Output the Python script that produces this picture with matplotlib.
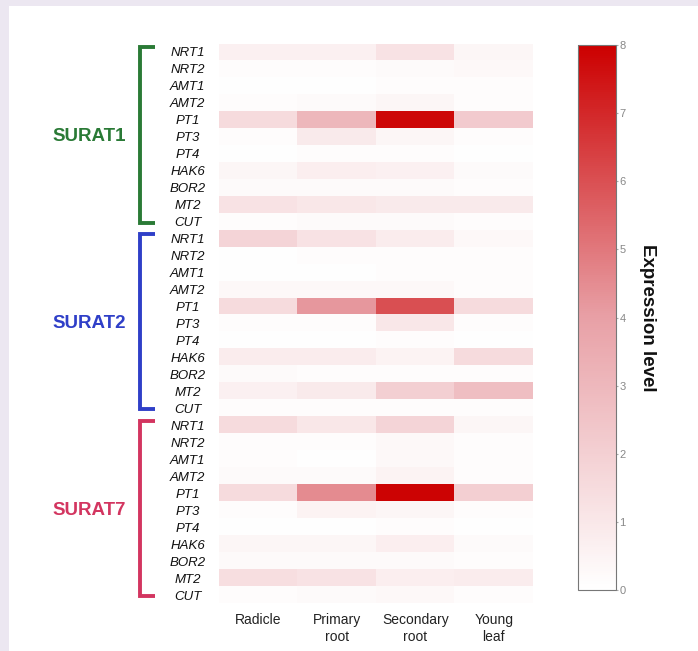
import numpy as np
import matplotlib
matplotlib.use("Agg")
from matplotlib import pyplot as plt
from matplotlib.colors import LinearSegmentedColormap
from matplotlib.patches import Rectangle
import matplotlib.transforms as mtransforms

plt.rcParams['font.family'] = ['Liberation Sans', 'DejaVu Sans']

# tissues and genes
tissues = ["Radicle", "Primary\nroot", "Secondary\nroot", "Young\nleaf"]
genes = ["NRT1", "NRT2", "AMT1", "AMT2", "PT1", "PT3", "PT4",
         "HAK6", "BOR2", "MT2", "CUT"]
strains = ["SURAT1", "SURAT2", "SURAT7"]
strain_colors = ["#2a7a36", "#2f3fc8", "#d33560"]

# expression levels (Radicle, Primary root, Secondary root, Young leaf)
surat1 = [[0.6, 0.6, 1.2, 0.4],
          [0.1, 0.1, 0.2, 0.3],
          [0.05, 0.05, 0.1, 0.1],
          [0.1, 0.2, 0.4, 0.1],
          [1.5, 3.0, 7.8, 2.2],
          [0.1, 0.9, 0.4, 0.1],
          [0.05, 0.1, 0.1, 0.05],
          [0.4, 0.7, 0.6, 0.2],
          [0.2, 0.2, 0.2, 0.1],
          [1.2, 1.0, 0.9, 0.9],
          [0.1, 0.2, 0.2, 0.1]]
surat2 = [[1.8, 1.2, 0.8, 0.3],
          [0.05, 0.1, 0.1, 0.1],
          [0.05, 0.05, 0.1, 0.1],
          [0.3, 0.3, 0.3, 0.1],
          [1.5, 4.2, 6.0, 1.5],
          [0.1, 0.1, 1.0, 0.1],
          [0.05, 0.05, 0.1, 0.05],
          [0.8, 0.8, 0.5, 1.5],
          [0.2, 0.1, 0.1, 0.1],
          [0.6, 0.9, 2.0, 2.7],
          [0.1, 0.1, 0.1, 0.1]]
surat7 = [[1.5, 1.0, 1.8, 0.4],
          [0.1, 0.1, 0.3, 0.1],
          [0.1, 0.05, 0.3, 0.1],
          [0.2, 0.2, 0.5, 0.1],
          [1.5, 4.5, 7.9, 2.0],
          [0.1, 0.5, 0.4, 0.1],
          [0.05, 0.05, 0.1, 0.05],
          [0.4, 0.4, 0.7, 0.2],
          [0.2, 0.2, 0.2, 0.1],
          [1.4, 1.2, 0.7, 0.8],
          [0.1, 0.2, 0.3, 0.1]]

data = np.array(surat1 + surat2 + surat7)
row_labels = genes * 3

cmap = LinearSegmentedColormap.from_list("wr", ["#ffffff", "#e8a0a6", "#cc0000"])

fig = plt.figure(figsize=(6.98, 6.51), dpi=100, facecolor="#ece7f1")
# white panel behind everything
fig.patches.append(Rectangle((9/698, 0), 1, 1 - 6/651, transform=fig.transFigure,
                             facecolor="white", edgecolor="none", zorder=-10))

ax = fig.add_axes([219/698, 1 - 603.5/651, 314/698, 560/651])
ax.patch.set_alpha(0)
im = ax.imshow(data, cmap=cmap, vmin=0, vmax=8, aspect="auto",
               interpolation="nearest")
for s in ax.spines.values():
    s.set_visible(False)
ax.set_yticks(range(len(row_labels)))
ax.set_yticklabels(row_labels, fontsize=9.5, fontstyle="italic", color="#111111",
                   ha="center")
ax.set_xticks(range(len(tissues)))
ax.set_xticklabels(tissues, fontsize=10, color="#222222", linespacing=1.25)
ax.tick_params(axis="y", length=0, pad=22.5)
ax.tick_params(axis="x", length=0, pad=7)

# strain brackets and names
trans = mtransforms.blended_transform_factory(ax.transAxes, ax.transData)
n = len(genes)
for k, (name, col) in enumerate(zip(strains, strain_colors)):
    top = k * n - 0.28
    bot = k * n + n - 1 + 0.05
    ax.plot([-0.205, -0.252, -0.252, -0.205], [top, top, bot, bot],
            color=col, lw=2.8, transform=trans, clip_on=False,
            solid_joinstyle="miter", solid_capstyle="butt")
    ax.text(-0.296, k * n + (n - 1) / 2, name, transform=trans, ha="right",
            va="center", fontsize=13.5, fontweight="bold", color=col)

# colour bar
cax = fig.add_axes([578/698, 1 - 590/651, 38/698, 545/651])
cb = fig.colorbar(im, cax=cax, ticks=range(9))
cb.outline.set_edgecolor("#777777")
cb.outline.set_linewidth(0.8)
cb.ax.tick_params(labelsize=8, labelcolor="#888888", length=1.5, color="#aaaaaa", pad=1)
cb.set_label("Expression level", rotation=270, fontsize=13.5, labelpad=22,
             fontweight="bold", color="#111111",
             family=['Liberation Sans Narrow', 'Liberation Sans', 'DejaVu Sans'])

fig.savefig("out.png", dpi=100, facecolor=fig.get_facecolor())
